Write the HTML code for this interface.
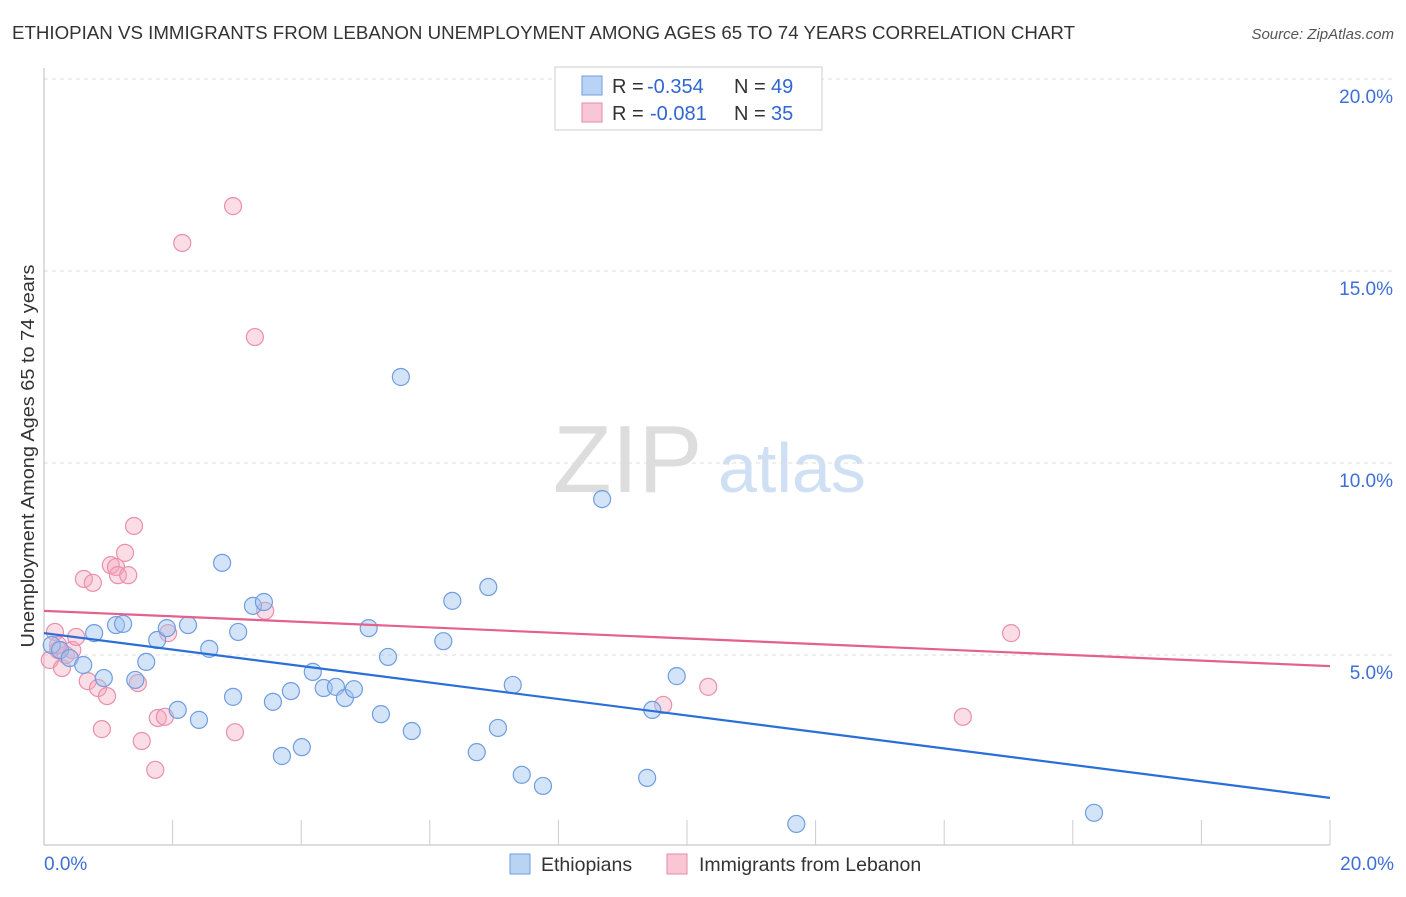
<!DOCTYPE html>
<html><head><meta charset="utf-8"><style>
body{margin:0;background:#fff;font-family:"Liberation Sans",sans-serif}
svg text{font-family:"Liberation Sans",sans-serif}
</style></head><body>
<svg id="chart" width="1406" height="892" viewBox="0 0 1406 892">
<text x="12" y="39" font-size="18" fill="#333" textLength="1063" lengthAdjust="spacingAndGlyphs">ETHIOPIAN VS IMMIGRANTS FROM LEBANON UNEMPLOYMENT AMONG AGES 65 TO 74 YEARS CORRELATION CHART</text>
<text x="1394" y="39" font-size="15" fill="#555" font-style="italic" text-anchor="end">Source: ZipAtlas.com</text>
<g>
<text x="553" y="492" font-size="96" fill="#ddd" font-family="Liberation Serif,serif">ZIP</text>
<text x="718" y="492" font-size="70" fill="#cfe0f5">atlas</text>
</g>
<g id="grid"></g>
<g id="axes"></g>
<g id="marks"></g>
<text x="34" y="456" font-size="18" fill="#333" text-anchor="middle" textLength="383" lengthAdjust="spacingAndGlyphs" transform="rotate(-90 34 456)">Unemployment Among Ages 65 to 74 years</text>
<g>
<rect x="555" y="67" width="267" height="63" fill="#fff" stroke="#ccc"/>
<rect x="582" y="76" width="20" height="19" fill="#b9d3f5" stroke="#6f9de0"/>
<rect x="582" y="103" width="20" height="19" fill="#f9c6d6" stroke="#e88aa8"/>
<text x="612" y="93" font-size="20" fill="#333">R =</text>
<text x="647" y="93" font-size="20" fill="#2f66d0">-0.354</text>
<text x="734" y="93" font-size="20" fill="#333">N =</text>
<text x="771" y="93" font-size="20" fill="#2f66d0">49</text>
<text x="612" y="120" font-size="20" fill="#333">R =</text>
<text x="650" y="120" font-size="20" fill="#2f66d0">-0.081</text>
<text x="734" y="120" font-size="20" fill="#333">N =</text>
<text x="771" y="120" font-size="20" fill="#2f66d0">35</text>
</g>
<g>
<rect x="510" y="854" width="20" height="20" fill="#b9d3f5" stroke="#6f9de0"/>
<text x="541" y="871" font-size="19.5" fill="#333">Ethiopians</text>
<rect x="667" y="854" width="20" height="20" fill="#f9c6d6" stroke="#e88aa8"/>
<text x="699" y="871" font-size="19.5" fill="#333">Immigrants from Lebanon</text>
</g>
</svg>
<script>
const blueX=[0.12,0.25,0.40,0.61,0.78,0.93,1.12,1.23,1.42,1.59,1.76,1.91,2.08,2.24,2.41,2.57,2.77,2.94,3.02,3.25,3.42,3.56,3.70,3.84,4.01,4.18,4.35,4.54,4.68,4.82,5.05,5.24,5.35,5.55,5.72,6.21,6.35,6.73,6.91,7.06,7.29,7.43,7.76,8.68,9.38,9.46,9.84,11.70,16.33];
const blueY=[5.26,5.13,4.92,4.74,5.57,4.40,5.78,5.81,4.35,4.82,5.39,5.70,3.57,5.78,3.31,5.16,7.40,3.91,5.60,6.28,6.38,3.78,2.37,4.06,2.60,4.56,4.14,4.17,3.88,4.11,5.70,3.46,4.95,12.24,3.02,5.36,6.41,2.47,6.77,3.10,4.22,1.88,1.59,9.06,1.80,3.57,4.45,0.60,0.89];
const pinkX=[0.09,0.17,0.22,0.28,0.34,0.44,0.50,0.62,0.68,0.76,0.84,0.90,0.98,1.04,1.12,1.15,1.26,1.31,1.40,1.46,1.52,1.73,1.77,1.88,1.93,2.15,2.94,2.97,3.28,3.44,9.63,10.33,14.29,15.04,0.22];
const pinkY=[4.87,5.60,5.13,4.66,5.00,5.13,5.47,6.98,4.32,6.88,4.14,3.07,3.93,7.34,7.29,7.08,7.66,7.08,8.36,4.27,2.76,2.01,3.36,3.39,5.57,15.73,16.69,2.99,13.28,6.15,3.70,4.17,3.39,5.57,5.26];
const blueTrend=[5.57,1.28];
const pinkTrend=[6.15,4.71];
const yTicks=[5,10,15,20];
const yTickLabels=["5.0%","10.0%","15.0%","20.0%"];
const xTickLabels=["0.0%","20.0%"];

const NS="http://www.w3.org/2000/svg";
const X=v=>44+v*64.3, Y=v=>847-v*38.4;
function mk(tag,attrs,parent){const e=document.createElementNS(NS,tag);for(const k in attrs)e.setAttribute(k,attrs[k]);parent.appendChild(e);return e;}
const grid=document.getElementById('grid'),axes=document.getElementById('axes'),marks=document.getElementById('marks');
yTicks.forEach((t,i)=>{
 const l=mk('line',{x1:44,x2:1394,y1:Y(t),y2:Y(t),stroke:'#ddd','stroke-dasharray':'4,4'},grid);
 
 
 const tx=mk('text',{x:1393,y:Y(t)+24,'font-size':19,fill:'#3d6fd6','text-anchor':'end'},grid);
 tx.textContent=yTickLabels[i];
 
 
});
mk('line',{x1:44,x2:44,y1:68,y2:845,stroke:'#bbb'},axes);
mk('line',{x1:44,x2:1330,y1:845,y2:845,stroke:'#bbb'},axes);
for(let i=1;i<=10;i++){const t=mk('line',{x1:X(i*2),x2:X(i*2),y1:820,y2:845,stroke:'#ccc'},axes);
 
 }
[[X(0),'start'],[X(20),'end']].forEach((p,i)=>{
 const tx=mk('text',{x:i?1394:44,y:870,'font-size':19,fill:'#3d6fd6','text-anchor':p[1]},axes);
 tx.textContent=xTickLabels[i];
 
 
});
pinkX.forEach((v,i)=>{const c=mk('circle',{cx:X(v),cy:Y(pinkY[i]),r:8.5,fill:'rgba(245,165,190,0.38)',stroke:'#e98fac','stroke-width':1.2},marks);
 
 });
blueX.forEach((v,i)=>{const c=mk('circle',{cx:X(v),cy:Y(blueY[i]),r:8.5,fill:'rgba(160,196,240,0.45)',stroke:'#6f9de0','stroke-width':1.2},marks);
 
 });
const bl=mk('line',{x1:X(0),x2:X(20),y1:Y(blueTrend[0]),y2:Y(blueTrend[1]),stroke:'#2a6fd8','stroke-width':2.2},marks);


const pl=mk('line',{x1:X(0),x2:X(20),y1:Y(pinkTrend[0]),y2:Y(pinkTrend[1]),stroke:'#e4608e','stroke-width':2.2},marks);


</script>
</body></html>
